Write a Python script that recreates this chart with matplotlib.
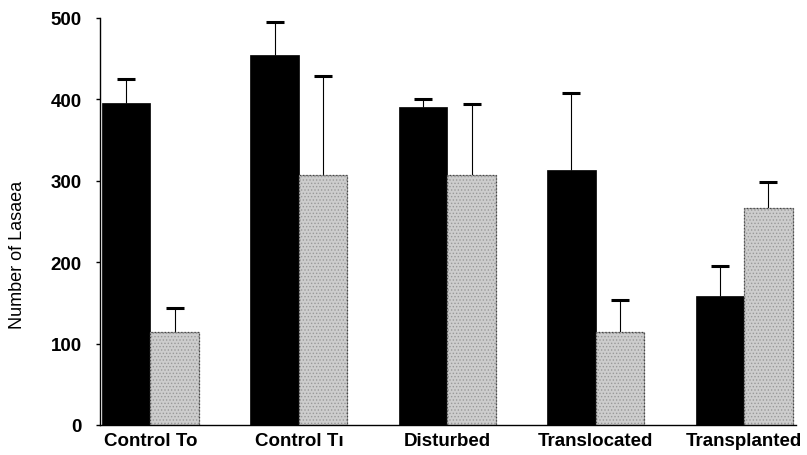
import numpy as np
import matplotlib as mpl
mpl.use('Agg')
import matplotlib.pyplot as plt

# values
groups    = ['Control To', 'Control T\u0131', 'Disturbed', 'Translocated', 'Transplanted']
dark_vals = [396, 454, 391, 313, 158]
dark_err  = [29, 41, 9, 95, 37]
grey_vals = [114, 307, 307, 114, 266]
grey_err  = [30, 122, 87, 39, 33]
yticks    = [0, 100, 200, 300, 400, 500]

plt.rcParams['font.family'] = ['Liberation Sans', 'DejaVu Sans']
plt.rcParams['hatch.linewidth'] = 0.6

fig = plt.figure(figsize=(8.07, 4.56), dpi=100)
ax = fig.add_axes([100/807, 30/456, 696/807, 407/456])

x = np.arange(len(groups))
w = 0.327

ax.bar(x - w/2, dark_vals, w, color='black', edgecolor='black', linewidth=0.5, zorder=2)
ax.bar(x + w/2, grey_vals, w, color='#cdcdcd', edgecolor='#999999', hatch='.....',
	   linewidth=0.8, zorder=2)
ax.bar(x + w/2, grey_vals, w, fill=False, edgecolor='#444444', linestyle=':',
	   linewidth=0.9, zorder=3)

errkw = dict(fmt='none', ecolor='black', elinewidth=0.8, capsize=6.5, capthick=2.2, zorder=1)
for xs, vals, errs in [(x - w/2, dark_vals, dark_err), (x + w/2, grey_vals, grey_err)]:
	eb = ax.errorbar(xs, vals, yerr=[np.zeros(len(vals)), errs], **errkw)
	# only the upper cap, like the original
	eb[1][0].set_visible(False)

ax.set_xlim(-0.34, 4.35)
ax.set_ylim(0, 500)

ax.spines['right'].set_visible(False)
ax.spines['top'].set_visible(False)
ax.spines['left'].set_linewidth(1.0)
ax.spines['bottom'].set_linewidth(1.0)

ax.set_yticks(yticks)
ax.set_yticklabels([str(v) for v in yticks], fontsize=13.5, fontweight='bold')
ax.tick_params(axis='y', direction='out', length=3, width=1.0, pad=10)

ax.set_xticks(x)
ax.set_xticklabels(groups, fontsize=13.5, fontweight='bold')
ax.tick_params(axis='x', length=0, pad=5)

fig.text(18/807, 1 - 255/456, 'Number of Lasaea', rotation=90, fontsize=13,
		 ha='center', va='center')

fig.savefig('out.png', dpi=100, facecolor='white')
plt.close(fig)
